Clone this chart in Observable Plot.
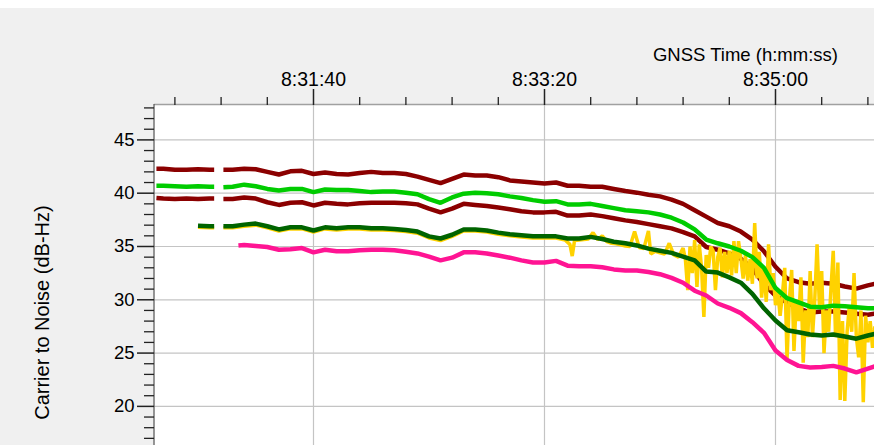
<!DOCTYPE html>
<html><head><meta charset="utf-8">
<script src="https://cdn.jsdelivr.net/npm/d3@7"></script>
<script src="https://cdn.jsdelivr.net/npm/@observablehq/plot@0.6"></script>
<style>
html,body{margin:0;padding:0;background:#fff;}
#chart{margin-top:8px;width:874px;height:437px;background:#f0f0f0;overflow:hidden;}
</style></head><body><div id="chart"></div>
<script>
// time: seconds after 8:30:00 ; values: carrier to noise (dB-Hz)
const T = [32,35,40,45,50,55,57,59,61,65,70,75,80,85,90,95,100,105,110,115,120,125,130,135,140,145,150,155,160,165,170,175,180,185,190,195,200,205,210,215,220,225,230,235,240,245,250,255,260,265,270,275,280,285,290,295,300,305,310,315,320,325,330,335,340,343];
const darkRed1 = [42.3,42.3,42.2,42.2,42.25,42.2,42.2,null,42.2,42.2,42.3,42.25,42.0,41.75,42.05,42.1,41.8,41.95,41.8,41.75,41.9,42.0,41.9,41.9,41.8,41.55,41.25,40.95,41.35,41.75,41.65,41.65,41.5,41.2,41.1,41.0,40.9,41.0,40.7,40.7,40.6,40.6,40.4,40.2,40.05,39.85,39.7,39.4,39.0,38.4,37.8,37.2,36.9,36.4,35.65,34.55,33.1,32.0,31.65,31.5,31.6,31.5,31.25,31.05,31.35,31.5];
const green = [40.7,40.7,40.65,40.6,40.65,40.6,40.6,null,40.55,40.6,40.8,40.65,40.4,40.25,40.4,40.4,40.1,40.35,40.3,40.3,40.2,40.1,40.15,40.15,40.05,39.9,39.45,39.1,39.6,39.95,40.05,40.0,39.9,39.7,39.55,39.35,39.2,39.25,38.95,38.95,39.0,38.8,38.6,38.4,38.3,38.2,38.0,37.7,37.25,36.6,35.65,35.3,35.0,34.6,34.0,33.0,31.1,30.15,29.75,29.35,29.3,29.45,29.4,29.3,29.2,29.2];
const darkRed2 = [39.55,39.5,39.45,39.5,39.45,39.5,39.5,null,39.45,39.45,39.6,39.5,39.15,38.9,39.1,39.15,38.85,39.1,39.0,38.95,39.05,39.1,39.1,39.1,39.05,38.95,38.55,38.2,38.55,39.0,38.9,38.8,38.65,38.5,38.3,38.2,38.2,38.25,37.9,37.9,38.0,37.85,37.65,37.45,37.3,37.1,36.9,36.7,36.35,35.95,34.95,34.7,34.35,33.85,32.95,31.45,30.4,29.75,29.2,28.8,28.9,28.9,28.8,28.7,28.6,28.7];
const darkGreen = [null,null,null,null,36.95,36.9,36.9,null,36.9,36.9,37.05,37.15,36.9,36.6,36.8,36.8,36.5,36.8,36.7,36.8,36.8,36.7,36.7,36.65,36.55,36.4,35.95,35.75,36.1,36.6,36.6,36.5,36.3,36.15,36.05,35.95,35.95,35.95,35.75,35.75,35.9,35.7,35.45,35.3,35.1,34.8,34.6,34.4,34.05,33.7,32.65,32.55,32.1,31.6,30.55,29.2,28.05,27.15,26.95,26.75,26.65,26.75,26.55,26.35,26.65,26.8];

const T_PINK = [67.5,70,75,80,85,90,95,100,105,110,115,120,125,130,135,140,145,150,155,160,165,170,175,180,185,190,195,200,205,210,215,220,225,230,235,240,245,250,255,260,265,270,275,280,285,290,295,300,305,310,315,320,325,330,335,340,343];
const pink = [35.1,35.15,35.05,34.95,34.7,34.75,34.85,34.45,34.7,34.55,34.55,34.65,34.7,34.7,34.65,34.5,34.35,34.05,33.7,33.95,34.45,34.45,34.35,34.15,33.95,33.7,33.5,33.5,33.65,33.2,33.15,33.15,33.05,32.85,32.75,32.75,32.6,32.4,32.05,31.6,30.85,30.4,29.65,29.25,28.75,27.9,26.9,25.25,24.35,23.8,23.65,23.7,23.8,23.55,23.2,23.55,23.75];

const T_GOLD = [50,55,57,59,61,65,70,75,80,85,90,95,100,105,110,115,120,125,130,135,140,145,150,155,160,165,170,175,180,185,190,195,200,205,
207,209,211,212,213,215,217,219,221,223,225,227,229,231,233,235,237,239,241,243,245,246,248,250,252,254,256,258,260,261,
262,263,264,265,266,267,268,269,270,271,272,273,274,275,276,277,278,279,280,281,282,283,284,285,286,287,288,289,290,291,292,293,294,295,296,297,298,299,300,
301,302,303,304,305,306,307,308,309,310,311,312,313,314,315,316,317,318,319,320,321,322,323,324,325,326,327,328,329,330,331,332,333,334,335,336,337,338,339,340,341,342,343];
const gold = [36.8,36.75,36.75,null,36.75,36.75,36.9,37.0,36.75,36.45,36.65,36.65,36.35,36.65,36.55,36.65,36.65,36.55,36.55,36.5,36.4,36.25,35.8,35.55,35.95,36.45,36.45,36.35,36.15,36.0,35.9,35.8,35.8,35.8,
35.7,35.6,35.2,34.1,35.55,35.6,35.65,35.7,36.3,35.65,36.0,35.45,35.3,35.25,35.15,35.05,35.0,36.4,34.9,34.8,36.45,34.3,34.55,34.4,34.3,35.3,34.2,34.0,34.85,33.8,
30.9,35.0,32.5,35.6,31.2,35.2,33.0,28.4,34.2,33.0,35.0,34.6,30.9,34.0,34.9,32.1,34.5,32.5,34.6,32.3,35.5,32.5,35.5,33.9,32.0,34.2,31.8,33.8,31.5,37.2,32.0,34.5,30.2,33.0,29.8,35.2,30.9,32.5,29.5,
30.8,28.5,30.5,33.0,24.4,30.0,32.8,25.2,30.0,28.0,32.1,24.1,29.0,26.5,32.7,26.5,30.0,35.2,29.5,32.7,25.0,29.0,27.0,31.0,34.6,26.5,33.5,20.6,28.0,20.5,27.0,29.5,27.0,32.5,26.5,24.6,29.0,20.4,28.5,26.0,28.0,25.5,27.5];

const MAJOR_X = [100, 200, 300];
const MINOR_X = [40,60,80,120,140,160,180,220,240,260,280,320,340];
const MAJOR_Y = [20,25,30,35,40,45];
const MINOR_Y = [17,18,19,21,22,23,24,26,27,28,29,31,32,33,34,36,37,38,39,41,42,43,44,46,47,48];
const X_DOMAIN = [31.17, 342.86];
const Y_DOMAIN = [16.33, 48.32];

const fmt = s => {
  const tot = 8*3600 + 30*60 + s;
  const h = Math.floor(tot/3600), m = Math.floor((tot%3600)/60), sec = Math.round(tot%60);
  return `${h}:${String(m).padStart(2,"0")}:${String(sec).padStart(2,"0")}`;
};
const rows = (ts, vs) => ts.map((t, i) => ({t, v: vs[i]}));

const lineOpts = (stroke, w) => ({x: "t", y: "v", stroke, strokeWidth: w, curve: "linear", clip: true, strokeLinejoin: "miter", strokeLinecap: "butt"});

const chart = Plot.plot({
  width: 874, height: 437,
  marginTop: 96, marginLeft: 154, marginRight: 0, marginBottom: 0,
  style: {background: "transparent", fontFamily: "'Liberation Sans', Arial, sans-serif", fontSize: "18px", color: "#000", overflow: "visible"},
  x: {domain: X_DOMAIN, axis: null},
  y: {domain: Y_DOMAIN, axis: null},
  marks: [
    Plot.frame({fill: "white", stroke: null}),
    Plot.gridX({ticks: MAJOR_X, stroke: "#c4c4c4", strokeOpacity: 1, strokeWidth: 1.2}),
    Plot.gridY({ticks: MAJOR_Y, stroke: "#c4c4c4", strokeOpacity: 1, strokeWidth: 1.2}),
    Plot.line(rows(T, darkRed2), lineOpts("#8b0000", 4.5)),
    Plot.line(rows(T, darkRed1), lineOpts("#8b0000", 4.5)),
    Plot.line(rows(T_GOLD, gold), lineOpts("#ffd200", 3.5)),
    Plot.line(rows(T, green), lineOpts("#00cc00", 4.5)),
    Plot.line(rows(T, darkGreen), lineOpts("#006400", 4.5)),
    Plot.line(rows(T_PINK, pink), lineOpts("#ff1493", 4.5)),
    Plot.ruleY([Y_DOMAIN[1]], {stroke: "#a0a0a0", strokeWidth: 1.5}),
    Plot.ruleX([X_DOMAIN[0]], {stroke: "#555", strokeWidth: 1.2, dx: -0.5}),
    Plot.axisX({anchor: "top", ticks: MINOR_X, tickSize: 8, tickFormat: () => "", label: null, stroke: "#222", strokeWidth: 1.3}),
    Plot.axisX({anchor: "top", ticks: MAJOR_X, tickSize: 16, tickPadding: 3, tickFormat: fmt, label: null, stroke: "#222", strokeWidth: 1.5, fontSize: 19.5}),
    Plot.axisY({anchor: "left", ticks: MINOR_Y, tickSize: 10, tickFormat: () => "", label: null, stroke: "#222", strokeWidth: 1.3}),
    Plot.axisY({anchor: "left", ticks: MAJOR_Y, tickSize: 17, tickPadding: 3, tickFormat: d => String(d), label: null, stroke: "#222", strokeWidth: 1.5, fontSize: 18.5}),
    Plot.text(["GNSS Time (h:mm:ss)"], {x: 287, frameAnchor: "top", dy: -57, fontSize: 18.5, fill: "#000"}),
    Plot.text(["Carrier to Noise (dB-Hz)"], {x: X_DOMAIN[0], y: 28.8, dx: -112, rotate: -90, fontSize: 20, fill: "#000"})
  ]
});
document.getElementById("chart").appendChild(chart);
</script></body></html>
